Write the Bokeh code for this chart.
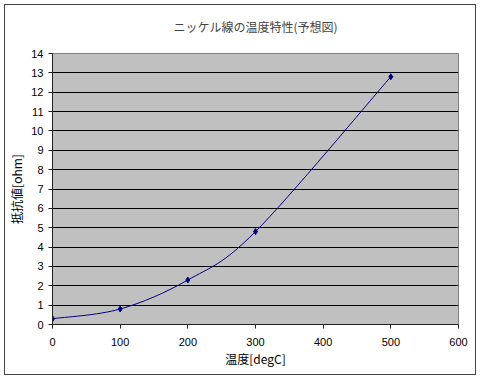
import numpy as np
from bokeh.plotting import figure
from bokeh.models import Range1d, FixedTicker
from bokeh.embed import file_html
from bokeh.resources import INLINE

temps = [0, 100, 200, 300, 500]
resist = [0.3, 0.8, 2.3, 4.8, 12.8]
x_ticks = [0, 100, 200, 300, 400, 500, 600]
y_ticks = list(range(0, 15))

title_text = "ニッケル線の温度特性(予想図)"
xlabel = "温度[degC]"
ylabel = "抵抗値[ohm]"

JP = "Noto Sans CJK JP"
NUM = "Liberation Sans"

p = figure(width=480, height=379, output_backend="svg", toolbar_location=None,
           x_range=Range1d(0, 600), y_range=Range1d(0, 14),
           min_border_left=52, min_border_right=22, min_border_top=53, min_border_bottom=55)

p.background_fill_color = "#C0C0C0"
p.border_fill_color = "white"
p.border_fill_alpha = 0
p.outline_line_color = "#808080"
p.outline_line_width = 1
p.styles = {"outline": "1px solid #444444", "outline-offset": "-5px", "background-color": "white"}

p.title.text = title_text
p.title.align = "center"
p.title.vertical_align = "top"
p.title.text_font = JP
p.title.text_font_size = "12px"
p.title.text_font_style = "normal"
p.title.standoff = 34

# Smooth curve (Catmull-Rom -> Bezier), computed from the data
xs = np.array(temps, dtype=float)
ys = np.array(resist, dtype=float)
n = len(xs)
x0s, y0s, x1s, y1s, cx0, cy0, cx1, cy1 = [], [], [], [], [], [], [], []
for i in range(n - 1):
    ip = max(i - 1, 0)
    inn = min(i + 2, n - 1)
    x0s.append(xs[i]); y0s.append(ys[i])
    x1s.append(xs[i + 1]); y1s.append(ys[i + 1])
    cx0.append(xs[i] + (xs[i + 1] - xs[ip]) / 6)
    cy0.append(ys[i] + (ys[i + 1] - ys[ip]) / 6)
    cx1.append(xs[i + 1] - (xs[inn] - xs[i]) / 6)
    cy1.append(ys[i + 1] - (ys[inn] - ys[i]) / 6)

p.bezier(x0=x0s, y0=y0s, x1=x1s, y1=y1s, cx0=cx0, cy0=cy0, cx1=cx1, cy1=cy1,
         line_color="#000080", line_width=1)
p.scatter(temps, resist, marker="diamond", size=6, fill_color="#000080", line_color="#000080")

p.xaxis.ticker = FixedTicker(ticks=x_ticks)
p.yaxis.ticker = FixedTicker(ticks=y_ticks)
p.xaxis.minor_tick_line_color = None
p.yaxis.minor_tick_line_color = None
for ax in (p.xaxis, p.yaxis):
    ax.axis_line_color = "#222222"
    ax.major_tick_line_color = "#222222"
    ax.major_tick_out = 4
    ax.major_tick_in = 0
    ax.major_label_text_font = NUM
    ax.major_label_text_font_size = "11px"
    ax.major_label_text_color = "black"
    ax.axis_label_text_font = JP
    ax.axis_label_text_font_size = "12px"
    ax.axis_label_text_font_style = "normal"
    ax.axis_label_text_color = "black"
p.xaxis.major_label_standoff = 9
p.yaxis.major_label_standoff = 5
p.xaxis.axis_label = xlabel
p.yaxis.axis_label = ylabel
p.xaxis.axis_label_standoff = 1
p.yaxis.axis_label_standoff = 3

p.xgrid.grid_line_color = None
p.ygrid.grid_line_color = "black"
p.ygrid.grid_line_width = 1

open("out.html", "w").write(file_html(p, INLINE))
